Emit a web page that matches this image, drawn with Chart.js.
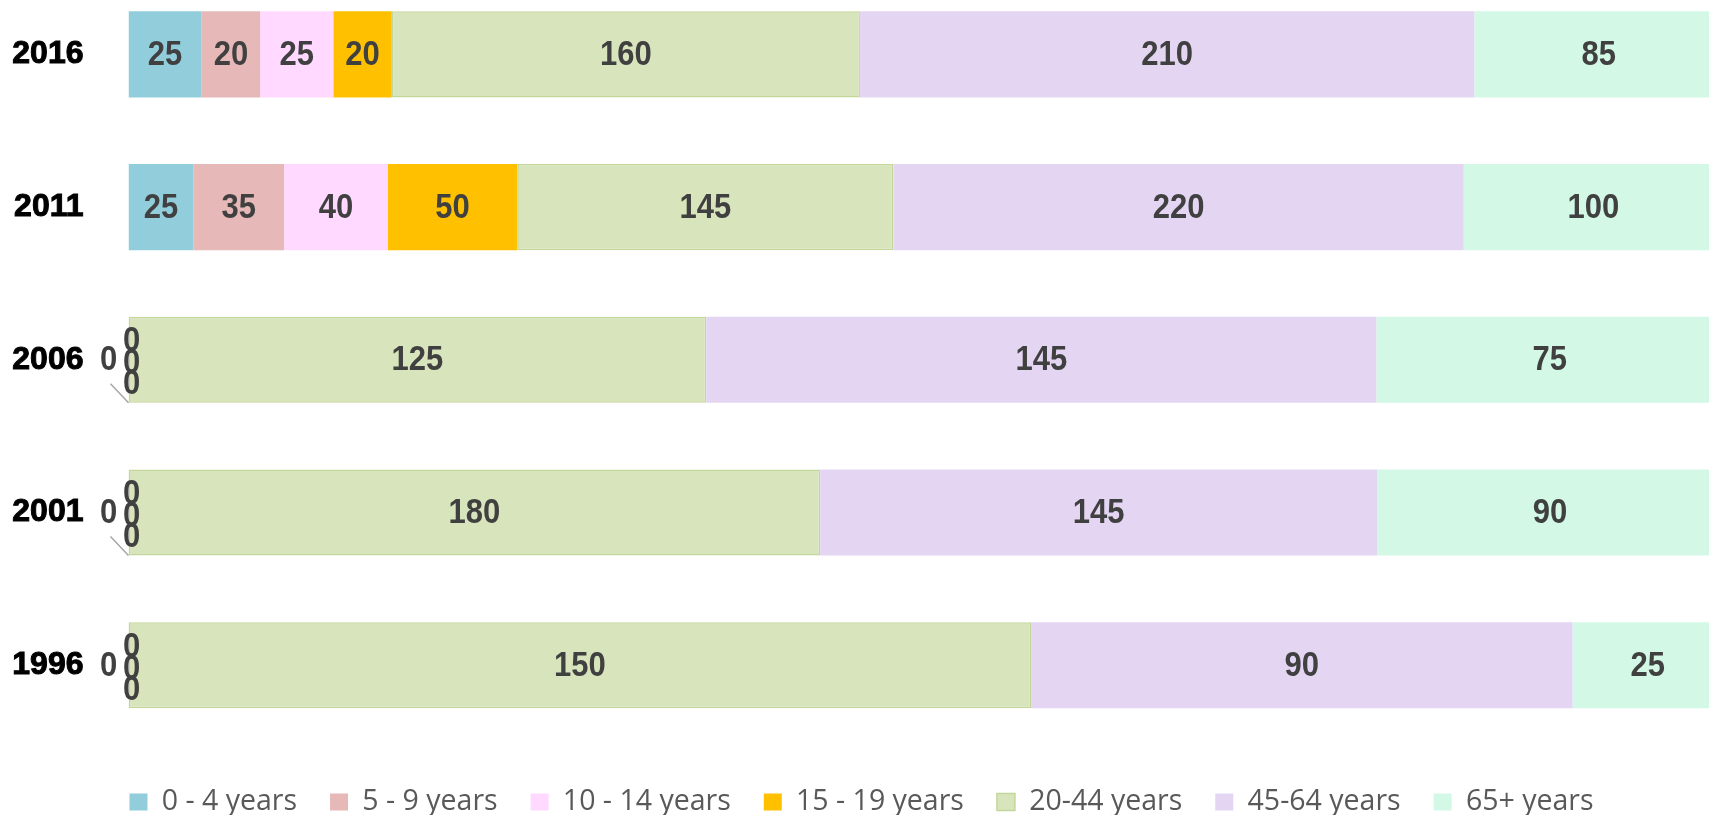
<!DOCTYPE html>
<html>
<head>
<meta charset="utf-8">
<title>Population by age group</title>
<script src="https://cdn.jsdelivr.net/npm/chart.js@4.4.1/dist/chart.umd.min.js"></script>
<style>
  html, body { margin: 0; padding: 0; background: #fff; overflow: hidden; }
  body { width: 1709px; height: 815px; position: relative; }
  #wrap { position: absolute; left: 0; top: -22px; width: 1723px; height: 848.25px; }
</style>
</head>
<body>
<div id="wrap"><canvas id="popChart"></canvas></div>
<script>
// Census years, top to bottom
const years = ["2016", "2011", "2006", "2001", "1996"];

// Age groups (legend order)
const ageGroups = ["0 - 4 years", "5 - 9 years", "10 - 14 years", "15 - 19 years",
                   "20-44 years", "45-64 years", "65+ years"];

// Values per age group, one entry per year
const age0to4   = [25, 25, 0, 0, 0];
const age5to9   = [20, 35, 0, 0, 0];
const age10to14 = [25, 40, 0, 0, 0];
const age15to19 = [20, 50, 0, 0, 0];
const age20to44 = [160, 145, 125, 180, 150];
const age45to64 = [210, 220, 145, 145, 90];
const age65plus = [85, 100, 75, 90, 25];

const seriesValues = [age0to4, age5to9, age10to14, age15to19, age20to44, age45to64, age65plus];

const fillColors   = ["#92CDDC", "#E6B9B8", "#FFD9FF", "#FFC000", "#D8E4BC", "#E4D6F3", "#D3F8E6"];
const borderColors = ["#92CDDC", "#E6B9B8", "#FFD9FF", "#FFC000", "#C4D79B", "#E4D6F3", "#D3F8E6"];

// rows whose zero labels get a leader line in the original
const leaderRows = ["2006", "2001"];

// 100% stacked: each row is shown as share of its total
const rowTotals = years.map((y, j) => seriesValues.reduce((s, arr) => s + arr[j], 0));

const datasets = ageGroups.map((name, i) => ({
    label: name,
    data: seriesValues[i].map((v, j) => v / rowTotals[j] * 100),
    rawValues: seriesValues[i],
    backgroundColor: fillColors[i],
    borderColor: borderColors[i],
    borderWidth: i === 4 ? 1.5 : 0,
    borderSkipped: false,
    categoryPercentage: 1,
    barPercentage: 0.564
}));

// text is a little taller than plain Arial in the original
function tallText(ctx, text, x, y) {
    ctx.save();
    ctx.translate(x, y);
    ctx.scale(1, 1.12);
    ctx.fillText(text, 0, 0);
    ctx.restore();
}

// Draws the value labels inside the segments, plus the piled "0" labels
const valueLabels = {
    id: "valueLabels",
    afterDatasetsDraw(chart) {
        const ctx = chart.ctx;
        ctx.save();
        ctx.font = "bold 31px 'Liberation Sans', Arial, sans-serif";
        ctx.fillStyle = "#404040";
        ctx.textAlign = "center";
        ctx.textBaseline = "middle";

        const zeroCount = years.map(() => 0);
        const zeroSteps = [-18, 4, 25];

        chart.data.datasets.forEach((ds, i) => {
            const meta = chart.getDatasetMeta(i);
            meta.data.forEach((bar, j) => {
                const v = ds.rawValues[j];
                const left = Math.min(bar.x, bar.base);
                if (v !== 0) {
                    tallText(ctx, String(v), (bar.x + bar.base) / 2, bar.y + 1);
                    return;
                }
                const k = zeroCount[j]++;
                if (k === 0) {
                    tallText(ctx, "0", left - 20, bar.y + 1);
                    if (leaderRows.includes(years[j])) {
                        ctx.strokeStyle = "#A6A6A6";
                        ctx.lineWidth = 1.5;
                        ctx.beginPath();
                        ctx.moveTo(left - 18, bar.y + 24);
                        ctx.lineTo(left, bar.y + bar.height / 2);
                        ctx.stroke();
                    }
                } else {
                    tallText(ctx, "0", left + 3, bar.y + zeroSteps[k - 1]);
                }
            });
        });
        ctx.restore();
    }
};

new Chart(document.getElementById("popChart"), {
    type: "bar",
    data: { labels: years, datasets: datasets },
    plugins: [valueLabels],
    options: {
        indexAxis: "y",
        responsive: true,
        maintainAspectRatio: false,
        animation: false,
        layout: { padding: 0 },
        scales: {
            x: {
                stacked: true,
                min: 0,
                max: 100,
                grid: { display: false, drawTicks: false },
                border: { display: false },
                ticks: { display: false },
                afterFit: (scale) => { scale.height = 13.25; }
            },
            y: {
                stacked: true,
                grid: { display: false, drawTicks: false },
                border: { display: false },
                afterFit: (scale) => {
                    scale.width = 128.5;
                    // tick padding should not push the plot down
                    scale.paddingTop = 0;
                    scale.paddingBottom = 0;
                },
                ticks: {
                    padding: 45,
                    color: "#000000",
                    textStrokeColor: "#000000",
                    textStrokeWidth: 1,
                    font: { family: "'Liberation Sans', Arial, sans-serif", size: 32, weight: "bold" }
                }
            }
        },
        plugins: {
            tooltip: { enabled: false },
            legend: {
                position: "bottom",
                labels: {
                    boxWidth: 18,
                    boxHeight: 17,
                    padding: 33,
                    color: "#595959",
                    font: { family: "'Open Sans', 'Liberation Sans', sans-serif", size: 28.5 }
                }
            }
        }
    }
});
</script>
</body>
</html>
